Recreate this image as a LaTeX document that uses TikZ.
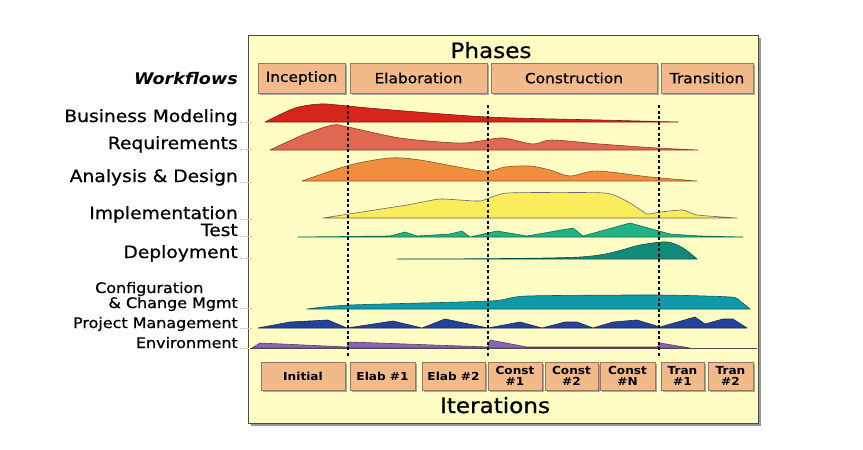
\documentclass[tikz,border=0pt]{standalone}
\usepackage{fontspec}
\setmainfont[FakeStretch=1.1]{DejaVu Sans}
\newfontfamily\heavyfont[FakeStretch=1.1, FakeBold=0.8]{DejaVu Sans}
\usepackage{xcolor}
\usetikzlibrary{shadows}

\definecolor{panelbg}{RGB}{255,252,196}
\definecolor{boxbg}{RGB}{242,185,138}
\definecolor{boxline}{RGB}{150,120,100}
\definecolor{bmred}{RGB}{214,38,28}
\definecolor{reqsal}{RGB}{224,104,80}
\definecolor{adorng}{RGB}{240,142,62}
\definecolor{implyel}{RGB}{250,236,90}
\definecolor{testgrn}{RGB}{30,180,136}
\definecolor{depteal}{RGB}{16,138,122}
\definecolor{ccmcyan}{RGB}{14,154,170}
\definecolor{pmblue}{RGB}{36,66,156}
\definecolor{envpurp}{RGB}{140,100,180}

\begin{document}
\begin{tikzpicture}[
  x=1pt, y=-1pt,
  phasebox/.style={draw=boxline, fill=boxbg, inner sep=0pt, minimum height=30pt,
                   font=\heavyfont\fontsize{14}{16}\selectfont,
                   drop shadow={shadow xshift=2pt, shadow yshift=-2pt, fill=gray!70, opacity=1}},
  iterbox/.style={draw=boxline, fill=boxbg, inner sep=0pt, minimum height=28pt, align=center,
                  font=\bfseries\fontsize{11}{11.5}\selectfont,
                  drop shadow={shadow xshift=2pt, shadow yshift=-2pt, fill=gray!70, opacity=1}},
  flow/.style={anchor=base east, inner sep=0pt, font=\heavyfont\fontsize{17}{18}\selectfont},
  hump/.style={draw=#1!60!black, fill=#1, line width=0.6pt, line join=round},
  phaseline/.style={line width=2.2pt, dash pattern=on 3pt off 2.5pt},
  guide/.style={gray!45, line width=0.4pt, densely dotted},
]
  \useasboundingbox (0,0) rectangle (863,450);

  % panel
  \fill[gray!80] (251,38) rectangle (761,426);
  \draw[fill=panelbg, draw=black!70, line width=0.8pt] (248,35) rectangle (758,423);

  \node[anchor=base, font=\heavyfont\fontsize{21}{24}\selectfont] (phases) at (491,58) {Phases};
  \node[anchor=base, font=\heavyfont\fontsize{21}{24}\selectfont] (iters) at (495,413) {Iterations};

  % workflow labels
  \node[flow, font=\bfseries\itshape\fontsize{16}{18}\selectfont] (wf) at (238,84) {Workflows};
  \node[flow] (bm) at (238,122) {Business Modeling};
  \node[flow] (req) at (238,149) {Requirements};
  \node[flow] (ad) at (238,182) {Analysis \& Design};
  \node[flow] (impl) at (238,219) {Implementation};
  \node[flow] (test) at (238,236) {Test};
  \node[flow] (dep) at (238,258) {Deployment};
  \node[flow, anchor=base west, font=\heavyfont\fontsize{14.5}{16}\selectfont] (ccma) at (95,293) {Configuration};
  \node[flow, font=\heavyfont\fontsize{14.5}{16}\selectfont] (ccmb) at (238,308) {\& Change Mgmt};
  \node[flow, font=\heavyfont\fontsize{14.5}{16}\selectfont] (pm) at (238,328) {Project Management};
  \node[flow, font=\heavyfont\fontsize{14.5}{16}\selectfont] (env) at (238,348) {Environment};

  \foreach \y in {122,149,182,219,236,258,308,328,348}
    \draw[guide] (240,\y) -- (252,\y);

  % humps
  \filldraw[hump=bmred] plot[smooth, tension=0.5] coordinates {(265,122) (295,108) (320,104) (338,105) (380,109) (488,117) (600,120) (678,122)} -- cycle;
  \filldraw[hump=reqsal] plot[smooth, tension=0.5] coordinates {(270,150) (305,134) (333,125) (348,127) (400,138) (457,143) (480,141) (503,138) (533,144) (552,140) (600,144) (657,148) (698,150)} -- cycle;
  \filldraw[hump=adorng] plot[smooth, tension=0.5] coordinates {(302,181) (350,165) (390,158) (420,160) (483,171) (505,167) (530,166) (550,170) (570,176) (597,171) (650,177) (697,181)} -- cycle;
  \filldraw[hump=implyel, draw=gray!80!black] plot[smooth, tension=0.3] coordinates {(323,218) (407,205) (440,199) (480,201) (507,193) (605,193) (630,203) (647,214) (660,212) (683,210) (697,215) (737,218)} -- cycle;
  \filldraw[hump=testgrn] plot coordinates {(298,237) (390,236) (405,232) (417,236) (450,234) (462,231) (470,237) (497,231) (527,236) (573,228) (583,236) (630,223) (670,234) (700,236) (743,237)} -- cycle;
  \filldraw[hump=depteal] plot[smooth, tension=0.5] coordinates {(397,259) (580,257) (640,245) (667,242) (683,248) (697,259)} -- cycle;
  \filldraw[hump=ccmcyan] plot[smooth, tension=0.4] coordinates {(307,309) (350,305) (490,301) (527,296) (657,295) (730,297) (740,301) (750,309)} -- cycle;
  \filldraw[hump=pmblue] plot coordinates {(258,328) (290,322) (328,320) (347,328) (393,321) (422,328) (445,319) (488,328) (520,322) (542,328) (565,322) (577,322) (593,328) (613,322) (637,320) (660,327) (695,317) (705,324) (723,319) (733,319) (747,328)} -- cycle;
  \filldraw[hump=envpurp] plot coordinates {(252,348) (260,343) (347,347) (350,342) (488,347) (490,340) (527,347) (657,347) (660,343) (690,348)} -- cycle;
  \draw[black!70, line width=0.8pt] (250,348) -- (757,348);

  % phase boundaries
  \foreach \x in {348,488,659}
    \draw[phaseline] (\x,105) -- (\x,356);

  % phase boxes
  \node[phasebox, minimum width=87pt] (incep) at (301.5,78) {Inception};
  \node[phasebox, minimum width=137pt] (elab) at (418.5,78) {Elaboration};
  \node[phasebox, minimum width=166pt] (const) at (574,78) {Construction};
  \node[phasebox, minimum width=92pt] (trans) at (707,78) {Transition};

  % iteration boxes
  \node[iterbox, minimum width=84pt] (initial) at (303,376) {Initial};
  \node[iterbox, minimum width=65pt] (elab1) at (382.5,376) {Elab \#1};
  \node[iterbox, minimum width=63pt] (elab2) at (453.5,376) {Elab \#2};
  \node[iterbox, minimum width=54pt] (const1) at (515,376) {Const\\\#1};
  \node[iterbox, minimum width=53pt] (const2) at (571.5,376) {Const\\\#2};
  \node[iterbox, minimum width=55pt] (constn) at (627.5,376) {Const\\\#N};
  \node[iterbox, minimum width=43pt] (tran1) at (682.5,376) {Tran\\\#1};
  \node[iterbox, minimum width=45pt] (tran2) at (730.5,376) {Tran\\\#2};
\end{tikzpicture}
\end{document}
